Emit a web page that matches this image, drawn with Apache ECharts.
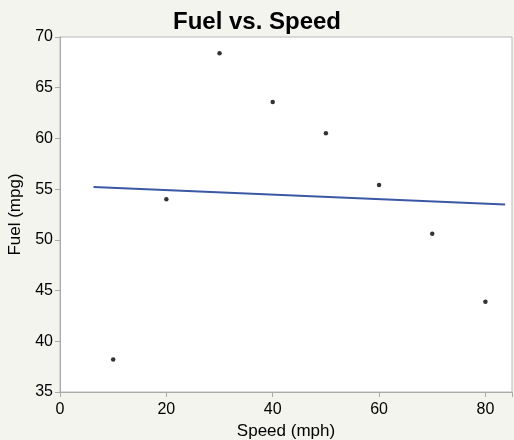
<!DOCTYPE html>
<html><head><meta charset="utf-8">
<script src="https://cdn.jsdelivr.net/npm/echarts@6/dist/echarts.min.js"></script>
<style>html,body{margin:0;padding:0;background:#f4f4ef;}#c{width:514px;height:440px;}</style>
</head><body><div id="c"></div>
<script>
const speed = [10, 20, 30, 40, 50, 60, 70, 80];
const fuel = [38.2, 54.0, 68.4, 63.6, 60.5, 55.4, 50.6, 43.9];
const fitX = [6.3, 83.7];
const fitY = [55.22, 53.49];
const xTicks = [0, 20, 40, 60, 80];
const yTicks = [35, 40, 45, 50, 55, 60, 65, 70];

const chart = echarts.init(document.getElementById('c'));
const font = 'Liberation Sans, Arial, Helvetica, sans-serif';
chart.setOption({
  backgroundColor: '#f4f4ef',
  animation: false,
  title: {text: 'Fuel vs. Speed', left: 'center', top: 5,
    textStyle: {fontFamily: font, fontSize: 24, fontWeight: 'bold', color: '#000'}},
  grid: {left: 60, right: 2, top: 37, bottom: 48, outerBoundsMode: 'none', containLabel: false,
    show: true, backgroundColor: '#fff', borderColor: '#b8b8b8', borderWidth: 1},
  xAxis: {type: 'value', min: 0, max: 85, interval: 20,
    name: 'Speed (mph)', nameLocation: 'middle', nameGap: 29,
    nameTextStyle: {fontFamily: font, fontSize: 17, color: '#000'},
    axisLine: {show: true, lineStyle: {color: '#aaa'}},
    axisTick: {show: true, inside: false, length: 5, lineStyle: {color: '#aaa'}},
    axisLabel: {fontFamily: font, fontSize: 16, color: '#000', margin: 10,
      formatter: v => xTicks.includes(v) ? String(v) : ''},
    splitLine: {show: false}},
  yAxis: {type: 'value', min: 35, max: 70, interval: 5,
    name: 'Fuel (mpg)', nameLocation: 'middle', nameGap: 31,
    nameTextStyle: {fontFamily: font, fontSize: 17, color: '#000'},
    axisLine: {show: true, lineStyle: {color: '#aaa'}},
    axisTick: {show: true, inside: false, length: 5, lineStyle: {color: '#aaa'}},
    axisLabel: {fontFamily: font, fontSize: 16, color: '#000', margin: 7,
      formatter: v => yTicks.includes(v) ? String(v) : ''},
    splitLine: {show: false}},
  series: [
    {type: 'line', data: fitX.map((x, i) => [x, fitY[i]]), symbol: 'none',
      lineStyle: {color: '#3a58a4', width: 2}, z: 2},
    {type: 'scatter', data: speed.map((x, i) => [x, fuel[i]]), symbolSize: 4.5,
      itemStyle: {color: '#000'}, z: 3}
  ]
});
</script></body></html>
